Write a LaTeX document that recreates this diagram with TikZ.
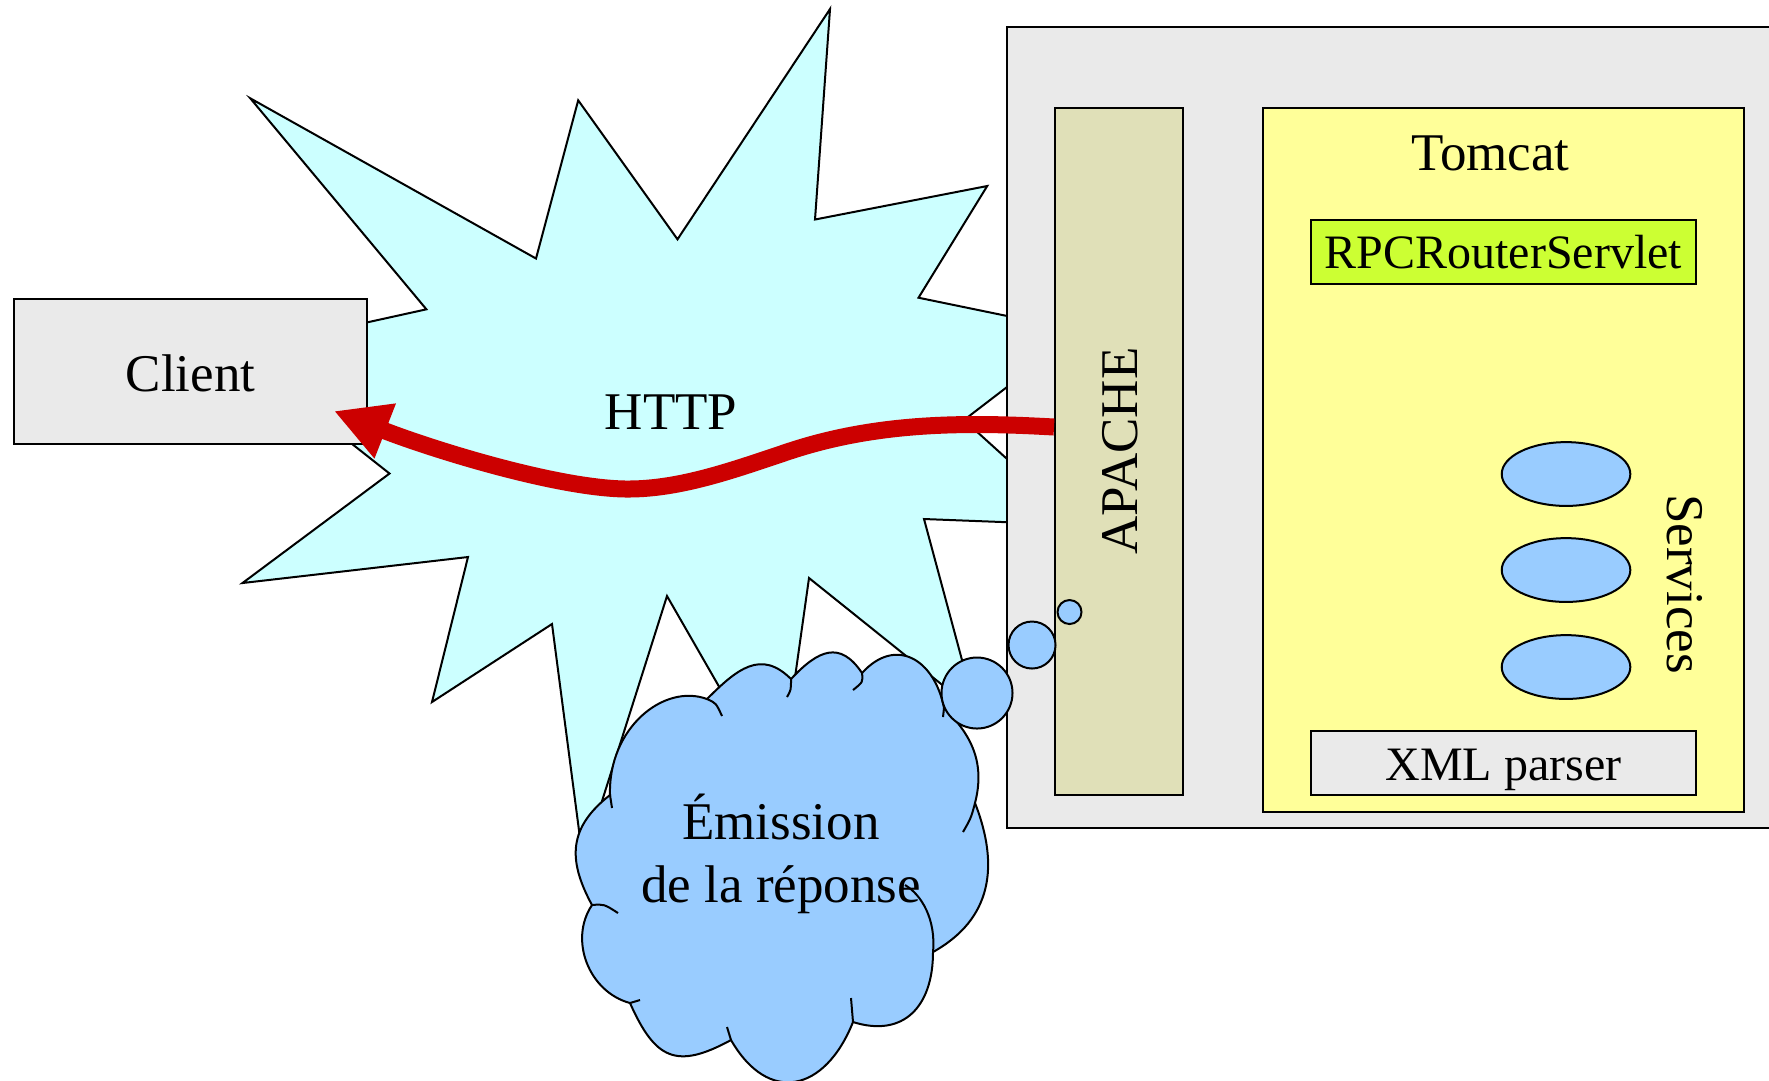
\documentclass[tikz,border=0pt]{standalone}
\usepackage{fontspec}
\setmainfont{Liberation Serif}
\usetikzlibrary{arrows.meta,shapes.geometric}
\definecolor{starcyan}{HTML}{CCFFFF}
\definecolor{boxgray}{HTML}{EAEAEA}
\definecolor{apacheol}{HTML}{E0E0B8}
\definecolor{tomcaty}{HTML}{FFFF99}
\definecolor{servgreen}{HTML}{CCFF33}
\definecolor{skyblue}{HTML}{99CCFF}
\definecolor{arrred}{HTML}{CC0000}
\newcommand{\bigtxt}{\fontsize{15.08pt}{18.2pt}\selectfont}
\newcommand{\smalltxt}{\fontsize{13.66pt}{16.5pt}\selectfont}
\begin{document}
\begin{tikzpicture}[x=0.1mm, y=-0.1mm,
  outl/.style={draw=black, line width=0.2mm},
  boxnode/.style={outl, rectangle, inner sep=0pt, anchor=north west},
  lbl/.style={font=\bigtxt, inner sep=0pt, anchor=base},
  servellipse/.style={outl, ellipse, fill=skyblue, inner sep=0pt, minimum width=12.86mm, minimum height=6.38mm},
  bubble/.style={outl, circle, fill=skyblue, inner sep=0pt},
  resparrow/.style={draw=arrred, line width=1.7mm, -{Triangle[length=5.5mm,width=5.5mm]}},
  stub/.style={draw=black, line width=0.2mm}
]
\useasboundingbox (0,0) rectangle (1769,1080);

% HTTP explosion
\filldraw[outl, fill=starcyan, line join=miter]
  (250.3,98.3) -- (536,258.5) -- (578.2,100.3) -- (677.5,239.3) -- (830,9)
  -- (815,219.5) -- (987.2,186) -- (918.5,297.7) -- (1080,331) -- (964,420)
  -- (1080,525) -- (924,519) -- (976,712) -- (809,578) -- (779,791)
  -- (667,596) -- (583,861) -- (552,624) -- (432,702) -- (468,557)
  -- (242.5,583) -- (389.5,473.5) -- (235,351.5) -- (426.4,309.3) -- cycle;

% Client
\node[boxnode, fill=boxgray, minimum width=35.3mm, minimum height=14.5mm,
      font=\bigtxt, text height=11.3pt, text depth=0pt] (client) at (13,298) {Client};

\node[lbl] (http) at (671,429) {HTTP};

% server
\node[boxnode, fill=boxgray, minimum width=79.4mm, minimum height=80.1mm] (server) at (1006,26) {};
\node[boxnode, fill=apacheol, minimum width=12.8mm, minimum height=68.7mm] (apache) at (1054,107) {};
\node[lbl, rotate=90] (apachelbl) at (1137,451) {APACHE};
\node[boxnode, fill=tomcaty, minimum width=48.1mm, minimum height=70.4mm] (tomcat) at (1262,107) {};
\node[lbl] (tomcatlbl) at (1490.5,170) {Tomcat};
\node[boxnode, fill=servgreen, minimum width=38.5mm, minimum height=6.45mm,
      font=\smalltxt, text height=9.7pt, text depth=0pt] (rpc) at (1310,218.5) {RPCRouterServlet};
\node[boxnode, fill=boxgray, minimum width=38.5mm, minimum height=6.4mm,
      font=\smalltxt, text height=9.8pt, text depth=0pt] (xml) at (1310,730) {XML parser};
\node[servellipse] (serv1) at (1566,474) {};
\node[servellipse] (serv2) at (1566,570) {};
\node[servellipse] (serv3) at (1566,667) {};
\node[lbl, rotate=-90] (servlbl) at (1667,584) {Services};

% cloud
\filldraw[outl, fill=skyblue] (610,795)
  .. controls (608,728) and (664,683) .. (707,699)
  .. controls (737,669) and (761,649) .. (791,679)
  .. controls (818,650) and (840,640) .. (862,673)
  .. controls (895.5,636) and (934.5,659) .. (944,708)
  .. controls (972.8,736) and (985,764) .. (975,803)
  .. controls (999.5,866) and (992,919) .. (933,952)
  .. controls (933,1006) and (904,1038) .. (853,1022)
  .. controls (825,1092) and (768.5,1105) .. (731,1040)
  .. controls (676,1070) and (655,1059) .. (630,1003)
  .. controls (589,992) and (568.5,940) .. (592,905)
  .. controls (567,859) and (569,827) .. (610,795) -- cycle;
\node[lbl] (cloudtxt) at (781,839) {\begin{tabular}[t]{@{}c@{}}Émission\\de la réponse\end{tabular}};
\draw[stub] (707,699) .. controls (716,703) .. (722,716);
\draw[stub] (791,679) .. controls (791,690) .. (787,697);
\draw[stub] (862,673) .. controls (863,682) .. (853,690);
\draw[stub] (944,708) -- (943,717);
\draw[stub] (975,803) .. controls (971,818) .. (963,832);
\draw[stub] (933,952) .. controls (936,920) and (922,895) .. (905,885);
\draw[stub] (853,1022) .. controls (852,1010) .. (851,998);
\draw[stub] (731,1040) -- (727,1027);
\draw[stub] (630,1003) -- (640,1000);
\draw[stub] (592,905) .. controls (604,904) .. (618,913);
\draw[stub] (610,795) -- (612,808);

% thought bubbles
\node[bubble, minimum size=7.1mm] (bub1) at (977,693) {};
\node[bubble, minimum size=4.7mm] (bub2) at (1032,645) {};
\node[bubble, minimum size=2.4mm] (bub3) at (1069.5,612) {};

% response arrow
\coordinate (arrS) at (apache.west |- 0,427);
\coordinate (arrT) at (334,411);
\draw[resparrow] (arrS) .. controls (966,422) and (878,422) .. (790,451)
  .. controls (736,469) and (682,489) .. (628,489)
  .. controls (560,489) and (434,450) .. (arrT);
\end{tikzpicture}
\end{document}
